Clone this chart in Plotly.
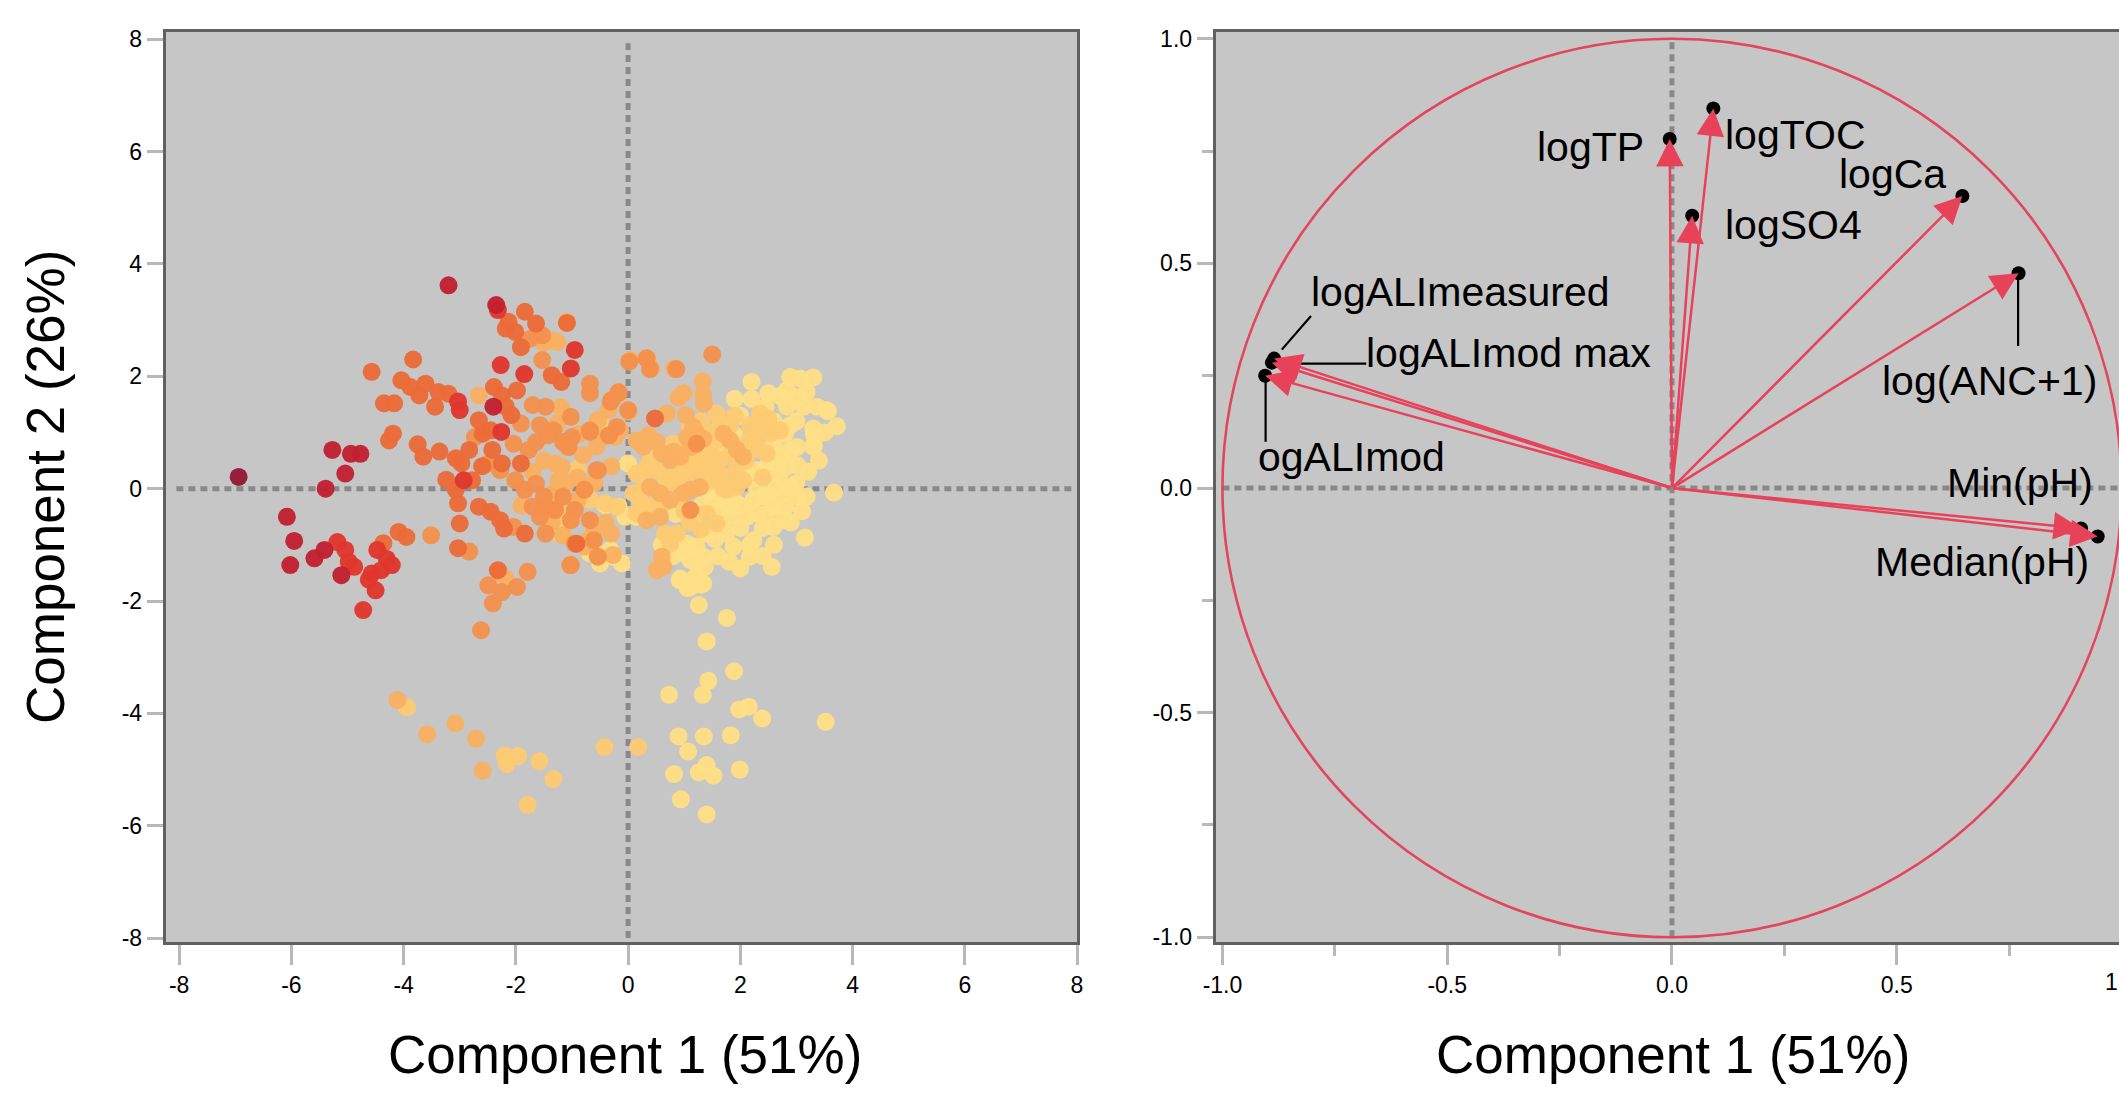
import plotly.graph_objects as go

# ---------------- Left panel: PCA scores (Component 1, Component 2), grouped by colour class ----------------
scores_c1 = [(0.00,0.45),(-0.50,-1.33),(-0.56,-1.15),(-0.74,-1.03),(-0.68,-1.15),(-0.32,-1.09),(-0.26,-1.21),(-0.11,-1.33),
             (-0.41,-0.29),(-0.17,-0.32),(-0.05,-0.50),(0.15,-0.50),(2.89,1.99),(3.07,1.96),(3.30,1.98),(2.83,1.75),(3.01,1.63),
             (3.18,1.72),(2.83,1.46),(3.13,1.46),(3.36,1.46),(3.54,1.40),(3.72,1.11),(3.30,1.07),(3.33,0.92),(3.30,0.75),
             (2.89,1.13),(2.80,0.98),(2.71,0.57),(2.89,0.69),(3.01,0.74),(2.12,0.27),(2.29,0.33),(2.47,0.39),(2.65,0.45),
             (2.83,0.39),(3.01,0.42),(3.21,0.30),(3.67,-0.07),(3.01,-0.14),(2.77,-0.08),(3.15,-0.87),(2.56,-1.39),(2.00,-1.42),
             (2.77,-0.56),(2.59,-0.68),(2.23,-0.92),(2.17,-1.00),(1.88,-1.03),(2.29,-0.44),(2.12,-0.50),(1.88,-0.20),(1.70,-0.14),
             (1.52,-0.20),(1.82,-0.50),(1.05,-0.98),(1.22,-1.03),(0.99,-1.15),(1.11,-1.27),(1.34,-1.21),(1.37,-1.39),(0.93,-1.60),
             (1.05,-1.66),(1.11,-1.75),(1.22,-1.54),(1.34,-1.69),(2.17,-1.21),(2.89,0.03),(2.65,0.03),(2.41,-0.14),(2.23,-0.20),
             (2.47,-0.44),(2.59,-0.32),(2.80,-0.32),(3.18,-0.14),(3.56,1.38),(3.31,0.98),(3.31,0.77),(1.26,-2.07),(1.76,-2.30),
             (1.40,-2.72),(1.89,-3.25),(1.43,-3.42),(1.33,-3.67),(0.73,-3.67),(1.98,-3.93),(2.15,-3.88),(2.39,-4.09),(3.52,-4.15),
             (0.90,-4.41),(1.35,-4.41),(1.83,-4.39),(1.07,-4.68),(1.40,-4.92),(1.26,-5.05),(1.52,-5.11),(1.99,-5.00),(0.82,-5.08),
             (0.94,-5.53),(1.40,-5.80),(0.92,-1.63),(1.06,-1.77),(1.30,-1.71),(1.45,-0.05),(1.60,0.70),(1.90,0.95),(2.60,0.80),
             (2.45,1.45),(2.00,-0.70),(1.55,-0.90),(1.75,-0.80),(0.85,-0.45),(2.90,-0.60),(3.00,1.20),(2.70,1.65),(0.60,-1.00),
             (2.00,1.30),(2.20,1.60),(1.90,1.60),(2.60,1.20),(2.30,0.00),(2.50,-0.10),(2.70,0.20),(3.00,0.10),(3.10,-0.40),
             (2.40,-0.70),(2.60,-1.00),(1.80,-0.30),(2.00,-0.30),(1.60,-0.40),(1.30,-0.30),(1.20,-0.50),(1.40,-0.80),(0.80,-1.20),
             (1.60,-1.20),(1.80,-1.30),(2.40,-1.20),(3.40,0.50),(3.50,1.00),(2.50,1.70),(2.20,1.90)]
scores_c2 = [(-0.41,-0.26),(-0.20,-0.32),(-0.89,0.36),(-3.94,-3.89),(-2.20,-4.75),(-2.16,-4.90),(-1.96,-4.76),(-1.58,-4.85),
             (-1.33,-5.17),(-1.79,-5.63),(-0.42,-4.60),(0.18,-4.60),(1.58,1.34),(1.64,1.16),(1.82,1.13),(2.35,1.34),(2.50,1.25),
             (1.58,0.86),(1.43,0.71),(1.52,0.57),(1.28,0.57),(0.15,0.27),(0.33,0.39),(0.51,0.33),(0.66,0.21),(0.87,0.27),
             (1.05,0.36),(1.22,0.27),(1.40,0.39),(1.58,0.33),(1.76,0.21),(1.94,0.39),(2.00,0.74),(1.82,0.63),(1.64,0.51),
             (0.21,-0.20),(0.10,-0.08),(0.15,-0.44),(0.66,-0.80),(0.87,-0.80),(0.75,-0.98),(-0.50,1.19),(-0.77,-0.08),(-0.68,-0.20),
             (-1.15,-0.44),(-1.03,-0.56),(-1.21,-0.56),(-1.21,-0.80),(2.17,1.13),(2.17,0.86),(2.53,0.98),(2.71,1.04),(2.29,0.71),
             (2.47,0.63),(1.34,0.09),(1.52,0.15),(1.76,-0.02),(1.94,0.03),(1.40,-0.44),(1.58,-0.62),(2.35,1.10),(0.95,0.10),
             (1.15,0.50),(1.70,0.00),(2.05,0.15),(0.70,0.05),(0.45,-0.30),(1.10,-0.60),(1.30,-0.72),(2.40,0.20),(0.30,0.10),
             (0.50,0.60),(0.80,0.80),(1.00,0.60),(1.30,1.20),(1.50,1.00),(0.60,-0.30),(0.90,-0.20),(1.00,-0.40),(0.30,-0.30),
             (0.40,0.50),(1.10,1.10),(1.90,1.30),(2.10,0.50),(2.30,0.90)]
scores_c3 = [(-2.66,1.66),(-1.26,2.61),(-1.33,2.64),(-1.09,2.97),(-0.54,1.22),(-1.26,1.16),(-1.30,0.45),(-1.16,-0.83),
             (-0.78,-1.03),(-0.27,-1.18),(-1.36,-0.59),(-2.28,-1.51),(-2.18,-1.60),(0.04,2.29),(0.34,2.32),(0.41,2.14),(0.82,2.14),
             (0.99,1.70),(0.90,1.62),(0.69,1.34),(1.03,1.31),(1.16,1.10),(0.01,1.37),(-0.35,1.40),(-4.11,-3.76),(-3.58,-4.37),
             (-3.08,-4.18),(-2.71,-4.45),(-2.59,-5.02),(0.51,0.83),(0.60,0.63),(0.75,0.51),(0.93,0.57),(0.81,0.66),(1.11,0.74),
             (-0.86,0.98),(-1.09,0.75),(-1.18,0.39),(-1.24,0.15),(-1.33,-0.08),(-1.30,-0.32),(-0.71,-0.92),(-0.62,-0.80),(1.28,0.03),
             (1.11,-0.02),(0.99,-0.08),(0.39,0.03),(0.57,-0.08),(0.75,-0.20),(0.57,-0.50),(0.33,-0.56),(-0.23,0.92),(-0.44,0.92),
             (-0.56,0.75),(-0.14,1.04),(0.27,0.75),(0.15,0.86),(0.36,0.95),(1.05,0.92),(1.22,0.98),(1.34,0.89),(1.94,0.69),
             (2.05,0.57),(1.82,0.86),(1.70,0.98),(1.33,1.91),(1.34,1.67),(1.35,1.52),(0.51,-1.45),(0.63,-1.39),(0.60,-1.21),
             (-1.50,2.60),(-1.20,1.45),(-0.90,0.20),(-0.90,-0.20),(-0.60,0.10),(-0.30,0.40),(-0.40,-0.60),(-1.70,0.30),
             (-1.90,-0.30),(-1.50,0.50),(-0.80,0.60),(-1.10,0.10),(-0.30,-0.80)]
scores_c4 = [(-1.74,2.67),(-1.53,2.73),(-1.53,2.29),(-0.68,1.87),(-0.17,1.72),(-0.31,1.55),(-2.04,-0.68),(-2.49,-1.72),
             (-2.25,-1.84),(-1.98,-1.75),(-1.79,-1.48),(-2.41,-2.04),(-2.62,-2.52),(-3.51,-0.83),(-2.83,-1.12),(-1.70,1.49),
             (-1.47,1.46),(-1.91,1.16),(-1.57,1.13),(-1.33,1.04),(-1.16,0.83),(-1.06,0.74),(-1.64,0.83),(-1.43,0.95),(-1.77,0.69),
             (-2.04,0.80),(-2.73,0.92),(-2.49,0.45),(-2.28,0.33),(-2.01,0.15),(-1.84,-0.02),(-1.64,0.09),(-1.50,-0.14),(-1.70,-0.32),
             (-1.47,-0.32),(-1.30,-0.38),(-1.57,-0.50),(-1.16,-0.14),(-0.95,-0.38),(-0.78,-0.02),(-0.54,0.33),(-0.68,1.01),
             (-0.34,0.95),(-0.20,1.10),(-1.02,1.28),(-1.47,-0.80),(-0.95,-0.98),(-1.02,-1.36),(-0.61,-0.92),(-0.54,-1.21),
             (-1.02,-0.56),(-0.68,-0.56),(0.02,2.26),(0.33,2.32),(0.39,2.13),(0.86,2.13),(-0.17,1.70),(-0.68,1.04),(-1.00,0.92),
             (-0.56,0.33),(-1.03,-1.36),(1.11,-0.38),(1.22,0.80),(1.50,2.39),(-0.29,1.58),(0.00,1.40),(-0.68,1.70)]
scores_c5 = [(-4.57,2.08),(-3.83,2.30),(-4.04,1.93),(-3.88,1.81),(-3.72,1.66),(-3.61,1.87),(-3.44,1.46),(-3.38,1.72),
             (-3.20,1.69),(-4.35,1.52),(-4.17,1.52),(-4.19,0.98),(-4.26,0.86),(-4.09,-0.77),(-3.95,-0.86),(-4.36,-0.97),
             (-3.07,-0.02),(-3.75,0.79),(-3.65,0.57),(-3.36,0.66),(-3.07,0.54),(-2.83,0.69),(-3.24,0.16),(-2.97,0.45),
             (-3.03,-0.26),(-3.00,-0.62),(-3.03,-1.06),(-2.66,-0.32),(-2.45,-0.41),(-2.28,-0.56),(-2.21,-0.71),(-1.84,3.15),
             (-1.64,2.94),(-2.13,2.97),(-2.18,2.85),(-2.01,2.79),(-1.91,2.52),(-1.09,2.95),(-1.36,2.02),(-1.19,1.90),(-2.39,1.81),
             (-2.25,1.66),(-2.18,1.46),(-2.59,0.98),(-2.66,1.22),(-2.42,0.69),(-2.25,0.45),(-2.45,1.04),(-2.78,0.15),(-1.91,0.45),
             (-0.92,-0.98),(-2.32,-1.45),(-1.84,-0.80),(-2.08,1.31),(-1.98,1.75),(0.48,1.25),(-2.60,0.40)]
scores_c6 = [(-2.32,3.18),(-0.95,2.47),(-2.27,2.20),(-1.02,2.14),(-3.00,1.40),(-3.03,1.55),(-4.72,-2.16),(-4.50,-1.81),
             (-4.57,-1.51),(-4.40,-1.45),(-4.21,-1.36),(-4.47,-1.09),(-4.98,-1.30),(-4.88,-1.39),(-5.04,-1.09),(-5.18,-0.95),
             (-2.93,0.15),(-1.85,2.04),(-4.62,-1.62),(-4.30,-1.25),(-2.26,1.01)]
scores_c7 = [(-3.20,3.62),(-2.40,1.46),(-5.27,0.69),(-4.94,0.62),(-4.77,0.62),(-5.04,0.27),(-5.39,0.00),(-6.08,-0.50),
             (-5.95,-0.93),(-6.02,-1.36),(-5.59,-1.24),(-5.41,-1.09),(-5.11,-1.54),(-2.35,3.27)]
scores_c8 = [(-6.94,0.21)]

class_colors = ["#ffdf86", "#fdca72", "#f9b061", "#f3904c", "#ec6a37", "#e0362b", "#c21f30", "#931638"]
score_classes = [scores_c1, scores_c2, scores_c3, scores_c4, scores_c5, scores_c6, scores_c7, scores_c8]

left_ticks = [-8, -6, -4, -2, 0, 2, 4, 6, 8]
left_ticktext = ["-8", "-6", "-4", "-2", "0", "2", "4", "6", "8"]

# ---------------- Right panel: loadings ----------------
var_names   = ["logTP", "logTOC", "logSO4", "logCa", "log(ANC+1)", "Min(pH)", "Median(pH)",
               "logALImeasured", "logALImod max", "logALImod"]
load_pc1    = [-0.005, 0.092, 0.045, 0.646, 0.771, 0.910, 0.947, -0.885, -0.890, -0.905]
load_pc2    = [0.777, 0.845, 0.606, 0.650, 0.478, -0.090, -0.108, 0.288, 0.279, 0.250]

label_text   = ["logTP", "logTOC", "logSO4", "logCa", "log(ANC+1)", "Min(pH)", "Median(pH)",
                "logALImeasured", "logALImod max", "ogALImod"]
label_x      = [-0.058, 0.114, 0.114, 0.615, 0.463, 0.608, 0.447, -0.808, -0.686, -0.925]
label_y      = [0.758, 0.786, 0.585, 0.699, 0.238, 0.011, -0.165, 0.436, 0.301, 0.069]
label_anchor = ["right", "left", "left", "right", "left", "left", "left", "left", "left", "left"]

leader_x = [[-0.868, -0.803], [-0.868, -0.680], [-0.904, -0.904], [0.770, 0.770]]
leader_y = [[0.308, 0.383], [0.277, 0.277], [0.246, 0.103], [0.464, 0.316]]

right_ticks = [-1.0, -0.5, 0.0, 0.5]
right_ticktext = ["-1.0", "-0.5", "0.0", "0.5"]
right_yticks = [-1.0, -0.5, 0.0, 0.5, 1.0]
right_yticktext = ["-1.0", "-0.5", "0.0", "0.5", "1.0"]
right_minor = [-0.75, -0.25, 0.25, 0.75]
edge_ticklabel = "1"   # visible part of the last x tick label at the right edge of the figure

axis_title = "Component 1 (51%)"
y_title = "Component 2 (26%)"

# ---------------- Figure ----------------
W, H = 2119, 1096
FONT = "Liberation Sans, Arial, Helvetica, sans-serif"
fig = go.Figure()

for pts, col in zip(score_classes, class_colors):
    xs = [p[0] for p in pts]
    ys = [p[1] for p in pts]
    fig.add_trace(go.Scatter(x=xs, y=ys, mode="markers", xaxis="x", yaxis="y",
                             marker=dict(size=18, color=col, opacity=0.95, line=dict(width=0)),
                             hoverinfo="skip", showlegend=False))

# black points at loadings
fig.add_trace(go.Scatter(x=load_pc1, y=load_pc2, mode="markers", xaxis="x2", yaxis="y2",
                         marker=dict(size=14, color="black"), hoverinfo="skip", showlegend=False))
# leader lines
for lx, ly in zip(leader_x, leader_y):
    fig.add_trace(go.Scatter(x=lx, y=ly, mode="lines", xaxis="x2", yaxis="y2",
                             line=dict(color="black", width=2.2), hoverinfo="skip", showlegend=False))

shapes = []
dash_line = dict(color="#898989", width=5, dash="7px,5px")
# left reference lines
shapes.append(dict(type="line", xref="x", yref="y", x0=-8.05, x1=7.9, y0=0, y1=0, line=dash_line, layer="below"))
shapes.append(dict(type="line", xref="x", yref="y", x0=0, x1=0, y0=-8.0, y1=7.93, line=dash_line, layer="below"))
# right reference lines
shapes.append(dict(type="line", xref="x2", yref="y2", x0=-1.0, x1=1.0, y0=0, y1=0, line=dash_line, layer="below"))
shapes.append(dict(type="line", xref="x2", yref="y2", x0=0, x1=0, y0=-1.0, y1=1.0, line=dash_line, layer="below"))
# unit circle
shapes.append(dict(type="circle", xref="x2", yref="y2", x0=-1, x1=1, y0=-1, y1=1,
                   line=dict(color="#e2455d", width=2.6), layer="below"))

annotations = []
arrow_col = "#e8425a"
for lx, ly in zip(load_pc1, load_pc2):
    annotations.append(dict(x=lx, y=ly, xref="x2", yref="y2", ax=0, ay=0, axref="x2", ayref="y2",
                            text="", showarrow=True, arrowhead=2, arrowsize=2.2, arrowwidth=2.5,
                            arrowcolor=arrow_col, standoff=0))
for t, x, y, a in zip(label_text, label_x, label_y, label_anchor):
    annotations.append(dict(x=x, y=y, xref="x2", yref="y2", text=t, showarrow=False,
                            xanchor=a, yanchor="middle", font=dict(family=FONT, size=41, color="black")))

# axis geometry (paper fractions)
x1_dom = [165.7 / W, 1077 / W]
x2_dom = [1215.7 / W, 1.0]
x2_rng = [-1.015, 0.9944]
ydom = [(H - 942) / H, (H - 32) / H]

# visible part of the x tick label "1.0" at the right edge
annotations.append(dict(x=1.0, xref="paper", y=(H - 982) / H, yref="paper", text=edge_ticklabel,
                        showarrow=False, xanchor="right", yanchor="middle", borderpad=0,
                        font=dict(family=FONT, size=23, color="black")))
# axis titles
annotations.append(dict(x=625 / W, y=1 - 1054 / H, xref="paper", yref="paper", text=axis_title,
                        showarrow=False, xanchor="center", yanchor="middle",
                        font=dict(family=FONT, size=53, color="black")))
annotations.append(dict(x=1673 / W, y=1 - 1054 / H, xref="paper", yref="paper", text=axis_title,
                        showarrow=False, xanchor="center", yanchor="middle",
                        font=dict(family=FONT, size=53, color="black")))
annotations.append(dict(x=46 / W, y=1 - 487 / H, xref="paper", yref="paper", text=y_title, textangle=-90,
                        showarrow=False, xanchor="center", yanchor="middle",
                        font=dict(family=FONT, size=53, color="black")))

tickfont = dict(family=FONT, size=23, color="black")
common = dict(showgrid=False, zeroline=False, showline=True, linecolor="#606060", linewidth=3,
              ticks="outside", tickwidth=3, tickcolor="#b8b8b8", tickfont=tickfont, automargin=False)

fig.update_layout(
    width=W, height=H, margin=dict(l=0, r=0, t=0, b=0, pad=0, autoexpand=False),
    paper_bgcolor="white", plot_bgcolor="#c6c6c6", showlegend=False,
    shapes=shapes, annotations=annotations,
    xaxis=dict(**common, domain=x1_dom, range=[-8.24, 8.0], tickvals=left_ticks,
               ticktext=left_ticktext, ticklen=20, mirror=True, anchor="y"),
    yaxis=dict(**common, domain=ydom, range=[-8.07, 8.13], tickvals=left_ticks,
               ticktext=left_ticktext, ticklen=16, mirror=True, anchor="x"),
    xaxis2=dict(**common, domain=x2_dom, range=x2_rng, tickvals=right_ticks,
                ticktext=right_ticktext, ticklen=20, mirror=True, anchor="y2",
                minor=dict(tickvals=right_minor, ticks="outside", ticklen=11, tickwidth=3, tickcolor="#b8b8b8")),
    yaxis2=dict(**common, domain=ydom, range=[-1.0105, 1.015], tickvals=right_yticks,
                ticktext=right_yticktext, ticklen=16, mirror=False, anchor="x2",
                minor=dict(tickvals=right_minor, ticks="outside", ticklen=11, tickwidth=3, tickcolor="#b8b8b8")),
)

fig.write_html("out.html", config={"displayModeBar": False},
               post_script="document.body.style.margin='0px'; document.body.style.overflow='hidden';")
